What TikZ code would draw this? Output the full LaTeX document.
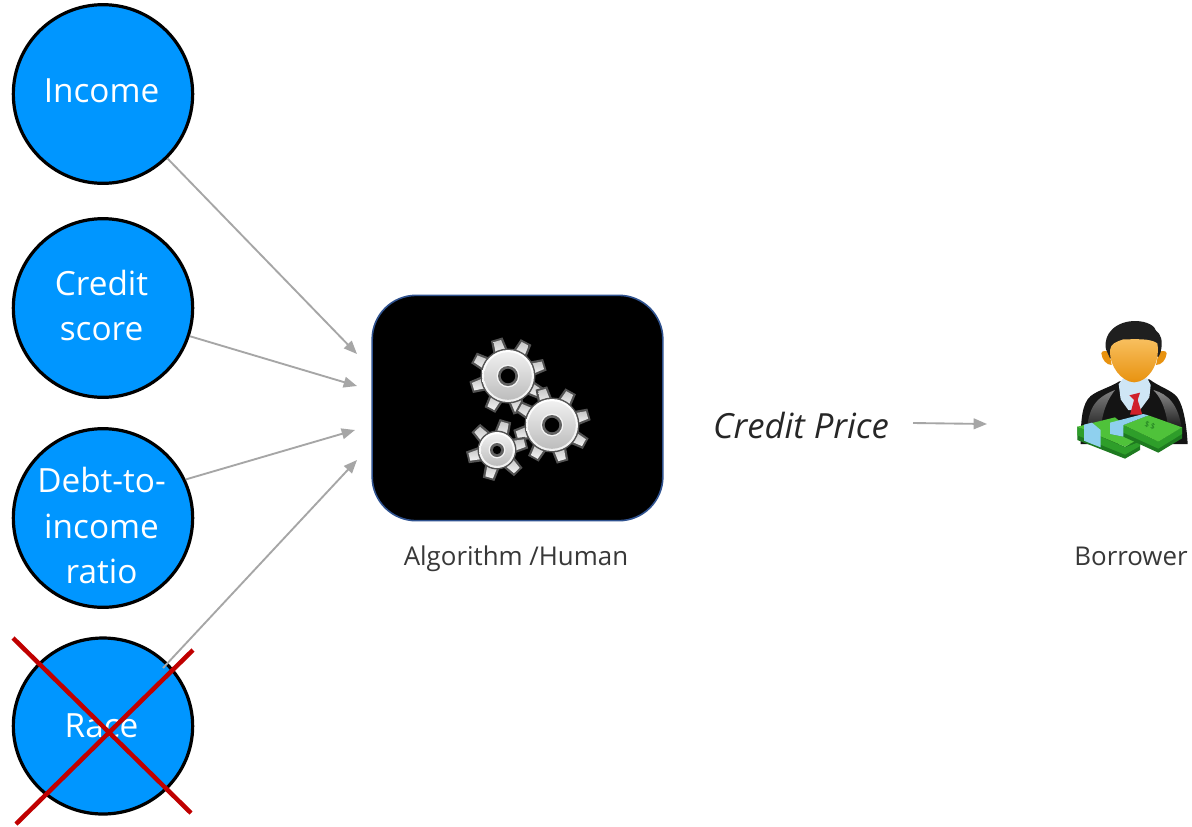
\documentclass[tikz,border=0pt]{standalone}
\usepackage{fontspec}
\setmainfont{Open Sans}
\usetikzlibrary{shapes.geometric,arrows.meta}
\definecolor{inputblue}{HTML}{0096FF}
\definecolor{arrowgray}{HTML}{A6A6A6}
\definecolor{crossred}{HTML}{C00000}
\definecolor{boxedge}{HTML}{2F528F}
\definecolor{skinlight}{HTML}{F8C060}
\definecolor{skindark}{HTML}{E8920F}
\definecolor{collarblue}{HTML}{CFE6F5}
\definecolor{tiered}{HTML}{D0202A}
\definecolor{cashtop}{HTML}{4FC23A}
\definecolor{cashside}{HTML}{2E9E2A}
\definecolor{cashdark}{HTML}{1E7A20}
\definecolor{bandblue}{HTML}{8FD0EE}
\tikzset{
  inputnode/.style={ellipse,draw=black,line width=2.4pt,fill=inputblue,text=white,inner sep=0pt,
    minimum width=134.5pt,minimum height=134pt,font=\fontsize{25}{34}\selectfont},
  flow/.style={draw=arrowgray,line width=1.4pt,-{Triangle[length=10pt,width=8pt]}},
  crossline/.style={draw=crossred,line width=3.4pt},
  caption/.style={inner sep=0pt,anchor=base,text=black!78,font=\fontsize{19.4}{22}\selectfont},
}
\newcommand{\celltext}[2]{\raisebox{#1}[0pt][0pt]{\makebox[0pt]{\kern-2.2pt\parbox{125pt}{\centering #2}}}}
\newcommand{\mygear}[7]{% cx cy body hole tooth-outer count rot
  \begin{scope}[shift={(#1,#2)}]
    \foreach \k in {1,...,#6}{
      \pgfmathsetmacro{\ang}{#7+360*\k/#6}
      \begin{scope}[rotate=\ang]
        \fill[black!68] (#3-2,-7.5) -- (#5+1.5,-6) -- (#5+1.5,6) -- (#3-2,7.5) -- cycle;
        \shade[left color=black!22,right color=black!5,shading angle=0] (#3-2,-5.2) -- (#5-0.5,-3.9) -- (#5-0.5,3.9) -- (#3-2,5.2) -- cycle;
      \end{scope}
    }
    \fill[black!68] (0,0) circle (#3+1.5);
    \shade[top color=white,bottom color=black!6] (0,0) circle (#3);
    \shade[top color=black!6,bottom color=black!26] (0,0) circle (#3-2.2);
    \fill[white!96!black] (0,0) circle (#4+1.4);
    \fill[black!62] (0,0) circle (#4);
    \fill[black] (0,0) circle (#4-2.8);
  \end{scope}
}
\begin{document}
\begin{tikzpicture}[x=0.75pt,y=-0.75pt]
\useasboundingbox (0,0) rectangle (1192,826);
\fill[white] (0,0) rectangle (1192,826);

\node[inputnode] (income) at (103,94) {\celltext{-4pt}{Income}};
\node[inputnode] (score) at (103,308) {\celltext{-4.5pt}{Credit\\score}};
\node[inputnode] (debt) at (103,518) {\celltext{-12pt}{Debt-to-\\income\\ratio}};
\node[inputnode,minimum height=132pt] (race) at (103,726) {\celltext{-6pt}{Race}};

\node[draw=boxedge,line width=1.2pt,fill=black,rounded corners=33pt,minimum width=218pt,minimum height=169pt,inner sep=0pt] (algo) at (517.5,408) {};

\mygear{508}{376}{26}{10}{37}{8}{17}
\mygear{552}{425}{26}{10}{37}{8}{16}
\mygear{497}{450}{18}{7}{29}{6}{14}

\node[caption] (algolabel) at (516,565) {Algorithm /Human};
\node[caption] (borrowerlabel) at (1131,565) {Borrower};
\node[inner sep=0pt,text=black!85,font=\fontsize{26}{28}\selectfont\itshape] (price) at (801,425) {Credit Price};

\coordinate (inA) at (357,354);
\coordinate (inB) at (357,386);
\coordinate (inC) at (355,430);
\coordinate (inD) at (357,460);
\coordinate (raceout) at (163,668);
\coordinate (priceout) at (913,423);
\coordinate (pricein) at (987,424);

\draw[flow] (income.-45) -- (inA);
\draw[flow] (score.-18) -- (inB);
\draw[flow] (debt.25) -- (inC);
\draw[flow] (raceout) -- (inD);
\draw[flow] (priceout) -- (pricein);

\coordinate (xa) at (13,638);
\coordinate (xb) at (191,813);
\coordinate (xc) at (193,650);
\coordinate (xd) at (16,824);
\draw[crossline] (xa) -- (xb);
\draw[crossline] (xc) -- (xd);

% borrower icon
\begin{scope}[shift={(1060,310)},x=0.25pt,y=-0.25pt]
  \fill[black!92] (62,402) .. controls (62,330) and (66,280) .. (92,258) .. controls (115,240) and (150,232) .. (178,214) -- (268,208) .. controls (300,232) and (335,240) .. (352,262) .. controls (372,290) and (380,350) .. (383,402) -- cycle;
  \shade[top color=black!50,bottom color=black!90] (80,370) .. controls (85,300) and (100,265) .. (165,240) .. controls (130,285) and (125,330) .. (120,370) -- cycle;
  \shade[top color=black!45,bottom color=black!90] (280,240) .. controls (325,252) and (355,285) .. (365,355) -- (325,355) .. controls (318,300) and (305,265) .. (280,240) -- cycle;
  \fill[collarblue] (176,222) -- (190,205) -- (262,205) -- (272,225) -- (268,262) -- (240,300) -- (205,300) -- (182,268) -- cycle;
  \fill[tiered] (208,256) -- (240,248) -- (233,270) -- (247,314) -- (210,314) -- (222,270) -- cycle;
  \fill[skindark] (124,130) .. controls (124,122) and (140,120) .. (148,128) -- (155,165) .. controls (140,165) and (126,150) .. (124,130) -- cycle;
  \fill[skindark] (320,130) .. controls (320,122) and (304,120) .. (296,128) -- (288,165) .. controls (304,165) and (318,150) .. (320,130) -- cycle;
  \fill[black!88] (138,118) .. controls (128,70) and (170,32) .. (228,33) .. controls (262,34) and (285,48) .. (288,62) .. controls (302,72) and (310,90) .. (302,126) -- (296,140) -- (150,145) -- cycle;
  \shade[top color=skinlight,bottom color=skindark] (150,120) .. controls (152,100) and (170,95) .. (190,88) .. controls (225,88) and (270,84) .. (292,100) .. controls (302,160) and (265,216) .. (222,217) .. controls (185,215) and (148,170) .. (150,120) -- cycle;
  % money, left bundle
  \fill[cashdark] (52,350) -- (52,390) -- (195,446) -- (240,420) -- (240,385) -- (195,410) -- cycle;
  \fill[cashside] (52,350) -- (52,376) -- (195,434) -- (240,408) -- (240,395) -- (195,412) -- cycle;
  \fill[cashtop] (52,350) -- (165,322) -- (240,385) -- (195,410) -- cycle;
  \fill[bandblue] (72,344) -- (96,338) -- (122,360) -- (122,412) -- (96,402) -- (72,392) -- cycle;
  % money, right bundle
  \fill[cashdark] (150,338) -- (150,372) -- (190,380) -- (295,428) -- (366,385) -- (366,352) -- (295,395) -- cycle;
  \fill[cashside] (190,345) -- (190,368) -- (295,416) -- (366,372) -- (366,352) -- (295,395) -- cycle;
  \fill[cashtop] (190,345) -- (265,316) -- (366,352) -- (295,395) -- cycle;
  \fill[bandblue] (150,338) -- (250,312) -- (265,316) -- (190,345) -- (190,380) -- (150,372) -- cycle;
  \node[inner sep=0pt,text=cashdark,font=\fontsize{6}{6}\selectfont,rotate=-18] (cash) at (270,347) {\$\,\$};
\end{scope}
\end{tikzpicture}
\end{document}
